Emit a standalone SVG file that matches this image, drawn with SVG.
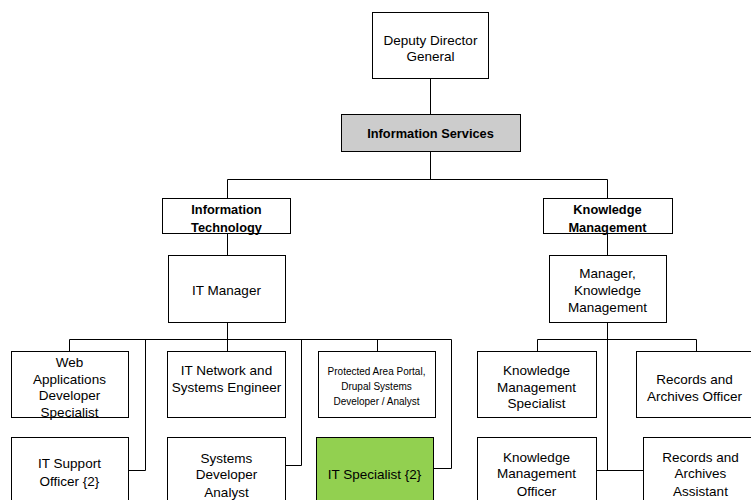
<svg xmlns="http://www.w3.org/2000/svg" width="751" height="500" viewBox="0 0 751 500">
<style>
.b{fill:#fff;stroke:#000;stroke-width:1}
.g{fill:#cccccc}
.gr{fill:#92d050}
.t{font-family:"Liberation Sans",Arial,sans-serif;font-size:13.5px;fill:#000;text-anchor:middle}
.bd{font-weight:bold;font-size:12.8px}
.sm{font-size:10px}
.c{fill:none;stroke:#000;stroke-width:1}
</style>
<rect width="751" height="500" fill="#fff"/>
<g id="connectors">
<path class="c" d="M430.5 78V114M430.5 151V179.5M227.5 179.5H607.5M227.5 179.5V198M607.5 179.5V198M227.5 233V255M607.5 233V255"/>
<path class="c" d="M227.5 322V351M69.5 339.5H451.5M69.5 339.5V351M145.5 339.5V470.5H128M301.5 339.5V465.5H285M377.5 339.5V351M451.5 339.5V468.5H433"/>
<path class="c" d="M607.5 322V470.5M537.5 339.5H696.5M537.5 339.5V351M696.5 339.5V351M596 470.5H643"/>
</g>
<g id="n-ddg"><rect class="b" x="372.5" y="12.5" width="116" height="66"/><text class="t" x="430.5" y="45">Deputy Director</text><text class="t" x="430.5" y="61">General</text></g>
<g id="n-is"><rect class="b g" x="341.5" y="114.5" width="179" height="37"/><text class="t bd" x="430.5" y="138">Information Services</text></g>
<g id="n-it"><rect class="b" x="162.5" y="198.5" width="128" height="35"/><text class="t bd" x="226.5" y="214">Information</text><text class="t bd" x="226.5" y="231.5">Technology</text></g>
<g id="n-km"><rect class="b" x="543.5" y="198.5" width="129" height="35"/><text class="t bd" x="607.5" y="214">Knowledge</text><text class="t bd" x="607.5" y="231.5">Management</text></g>
<g id="n-itm"><rect class="b" x="168.5" y="255.5" width="117" height="67"/><text class="t" x="226.5" y="295">IT Manager</text></g>
<g id="n-mkm"><rect class="b" x="549.5" y="255.5" width="117" height="67"/><text class="t" x="607.5" y="277.5">Manager,</text><text class="t" x="607.5" y="294.5">Knowledge</text><text class="t" x="607.5" y="311.5">Management</text></g>
<g id="n-web"><rect class="b" x="11.5" y="351.5" width="117" height="66"/><text class="t" x="69.5" y="367">Web</text><text class="t" x="69.5" y="383.5">Applications</text><text class="t" x="69.5" y="400">Developer</text><text class="t" x="69.5" y="416.5">Specialist</text></g>
<g id="n-net"><rect class="b" x="167.5" y="351.5" width="118" height="66"/><text class="t" x="226.5" y="375">IT Network and</text><text class="t" x="226.5" y="392">Systems Engineer</text></g>
<g id="n-pap"><rect class="b" x="318.5" y="351.5" width="117" height="66"/><text class="t sm" x="376.5" y="375">Protected Area Portal,</text><text class="t sm" x="376.5" y="390">Drupal Systems</text><text class="t sm" x="376.5" y="405">Developer / Analyst</text></g>
<g id="n-kms"><rect class="b" x="477.5" y="351.5" width="119" height="66"/><text class="t" x="536.5" y="375">Knowledge</text><text class="t" x="536.5" y="391.5">Management</text><text class="t" x="536.5" y="407.5">Specialist</text></g>
<g id="n-rao"><rect class="b" x="636.5" y="351.5" width="130" height="66"/><text class="t" x="694.5" y="384">Records and</text><text class="t" x="694.5" y="400.5">Archives Officer</text></g>
<g id="n-its"><rect class="b" x="11.5" y="437.5" width="117" height="70"/><text class="t" x="69.5" y="468">IT Support</text><text class="t" x="69.5" y="486">Officer {2}</text></g>
<g id="n-sda"><rect class="b" x="167.5" y="437.5" width="118" height="70"/><text class="t" x="226.5" y="462.5">Systems</text><text class="t" x="226.5" y="479">Developer</text><text class="t" x="226.5" y="496.5">Analyst</text></g>
<g id="n-itsp"><rect class="b gr" x="316.5" y="437.5" width="117" height="70"/><text class="t" x="374.5" y="479">IT Specialist {2}</text></g>
<g id="n-kmo"><rect class="b" x="477.5" y="437.5" width="119" height="70"/><text class="t" x="536.5" y="461.5">Knowledge</text><text class="t" x="536.5" y="478">Management</text><text class="t" x="536.5" y="496">Officer</text></g>
<g id="n-raa"><rect class="b" x="643.5" y="437.5" width="130" height="70"/><text class="t" x="700.5" y="461.5">Records and</text><text class="t" x="700.5" y="478">Archives</text><text class="t" x="700.5" y="496">Assistant</text></g>
</svg>
